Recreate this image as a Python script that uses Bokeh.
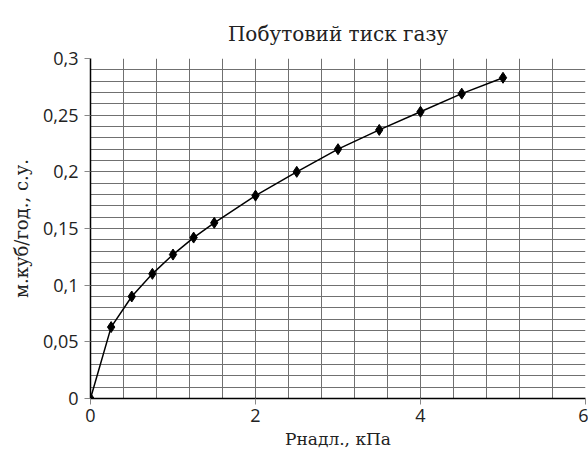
import numpy as np
from bokeh.plotting import figure
from bokeh.models import FixedTicker, Range1d
from bokeh.embed import file_html
from bokeh.resources import INLINE

# data
pressure = [0, 0.25, 0.5, 0.75, 1.0, 1.25, 1.5, 2.0, 2.5, 3.0, 3.5, 4.0, 4.5, 5.0]
flow = [0, 0.063, 0.090, 0.110, 0.127, 0.142, 0.155, 0.179, 0.200, 0.220, 0.237, 0.253, 0.269, 0.283]
x_ticks = [0, 2, 4, 6]
y_ticks = [0, 0.05, 0.1, 0.15, 0.2, 0.25, 0.3]
y_tick_labels = ["0", "0,05", "0,1", "0,15", "0,2", "0,25", "0,3"]

p = figure(width=588, height=459, output_backend="svg", toolbar_location=None,
           x_range=Range1d(0, 6), y_range=Range1d(0, 0.3),
           title="Побутовий тиск газу",
           min_border_left=90, min_border_right=3, min_border_top=58, min_border_bottom=61)

p.title.align = "center"
p.title.text_font = "DejaVu Serif"
p.title.text_font_size = "20px"
p.title.text_font_style = "normal"
p.title.text_color = "#222222"
p.title.standoff = 26

p.line(pressure, flow, line_color="black", line_width=1.5)
p.scatter(pressure, flow, marker="diamond", size=11, fill_color="black", line_color="black")

p.xaxis.ticker = FixedTicker(ticks=x_ticks)
p.yaxis.ticker = FixedTicker(ticks=y_ticks)
p.yaxis.major_label_overrides = {t: l for t, l in zip(y_ticks, y_tick_labels)}
for ax in (p.xaxis, p.yaxis):
    ax.major_label_text_font = "Open Sans"
    ax.major_label_text_font_size = "18px"
    ax.major_label_text_color = "#222222"
    ax.axis_line_color = "black"
    ax.axis_line_width = 1.5
    ax.major_tick_line_color = "#888888"
    ax.major_tick_in = 0
    ax.major_tick_out = 6
    ax.minor_tick_line_color = None
    ax.axis_label_text_font = "DejaVu Serif"
    ax.axis_label_text_font_style = "normal"
    ax.axis_label_text_color = "#222222"

p.xaxis.axis_label = "Pнадл., кПа"
p.yaxis.axis_label = "м.куб/год., с.у."
p.xaxis.axis_label_text_font_size = "17px"
p.yaxis.axis_label_text_font_size = "18px"
p.xaxis.major_label_standoff = 4
p.yaxis.major_label_standoff = 6
p.xaxis.axis_label_standoff = 4
p.yaxis.axis_label_standoff = 8

p.xgrid.ticker = FixedTicker(ticks=list(np.round(np.arange(0, 6.01, 0.4), 2)))
p.ygrid.ticker = FixedTicker(ticks=list(np.round(np.arange(0, 0.301, 0.01), 3)))
p.xgrid.grid_line_color = "#707070"
p.ygrid.grid_line_color = "#707070"
p.xgrid.grid_line_width = 1
p.ygrid.grid_line_width = 1
p.outline_line_color = None

open("out.html", "w").write(file_html(p, INLINE))
